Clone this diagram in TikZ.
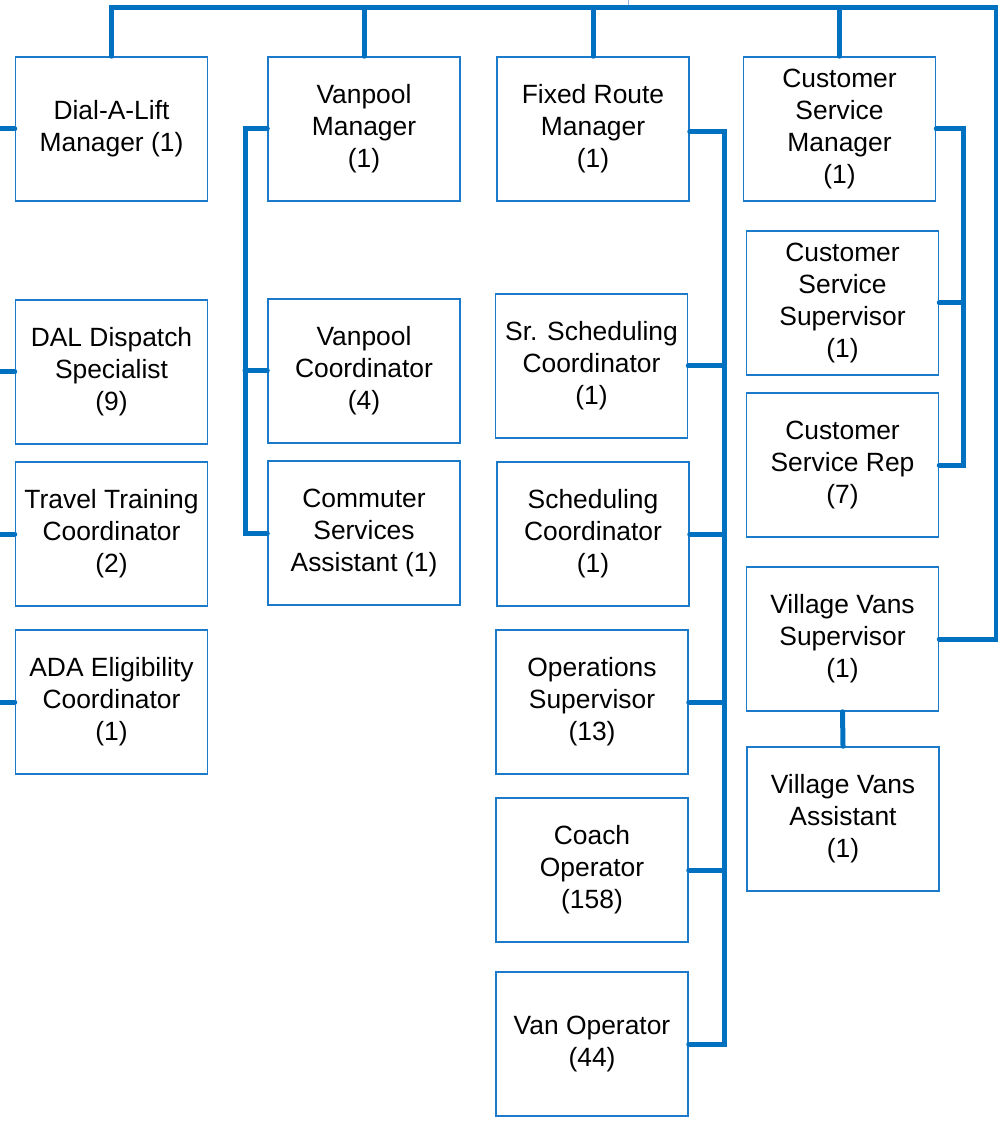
\documentclass[tikz,border=0pt]{standalone}
\usepackage{fontspec}
\setmainfont{Liberation Sans}
\usepackage{xcolor}
\usepackage{tikz}
\usetikzlibrary{positioning,calc}
\definecolor{orgLine}{HTML}{0070C0}
\definecolor{orgEdge}{HTML}{1C7ACB}
\definecolor{orgThin}{HTML}{8DB6E2}
\tikzset{
  org/.style={draw=orgEdge,line width=0.75pt,fill=white,text=black,rectangle,
              minimum width=96pt,minimum height=72pt,inner sep=0pt,align=center,
              font=\fontsize{13.2pt}{16pt}\selectfont},
  orgflow/.style={draw=orgLine,line width=2.5pt,line cap=round},
  orgthin/.style={draw=orgThin,line width=0.5pt},
}
\begin{document}
\begin{tikzpicture}[x=0.5pt,y=-0.5pt]
  \useasboundingbox (0,0) rectangle (997,1122);
  % helper coordinates for the trunk lines
  \coordinate (T) at (996,8);
  \coordinate (Lb) at (-6,0);
  \coordinate (Vb) at (245,0);
  \coordinate (Fb) at (724,0);
  \coordinate (Cb) at (963,0);
  \coordinate (Up) at (628,-10);
  \coordinate (Uj) at (628,8);

  % Dial-A-Lift column
  \node[org] (DAL) at (111.5,129) {Dial-A-Lift\\Manager (1)};
  \node[org] (DSP) at (111.5,372) {DAL Dispatch\\Specialist\\(9)};
  \node[org] (TTC) at (111.5,534) {Travel Training\\Coordinator\\(2)};
  \node[org] (ADA) at (111.5,702) {ADA Eligibility\\Coordinator\\(1)};
  % Vanpool column
  \node[org] (VPM) at (364,129) {Vanpool\\Manager\\(1)};
  \node[org] (VPC) at (364,371) {Vanpool\\Coordinator\\(4)};
  \node[org] (CSA) at (364,533) {Commuter\\Services\\Assistant (1)};
  % Fixed Route column
  \node[org] (FRM) at (593,129) {Fixed Route\\Manager\\(1)};
  \node[org] (SSC) at (591.5,366) {Sr. Scheduling\\Coordinator\\(1)};
  \node[org] (SCC) at (593,534) {Scheduling\\Coordinator\\(1)};
  \node[org] (OPS) at (592,702) {Operations\\Supervisor\\(13)};
  \node[org] (COA) at (592,870) {Coach\\Operator\\(158)};
  \node[org] (VAN) at (592,1044) {Van Operator\\(44)};
  % Customer Service column
  \node[org] (CSM) at (839.5,129) {Customer\\Service\\Manager\\(1)};
  \node[org] (CSS) at (842.5,303) {Customer\\Service\\Supervisor\\(1)};
  \node[org] (CSR) at (842.5,465) {Customer\\Service Rep\\(7)};
  \node[org] (VVS) at (842.5,639) {Village Vans\\Supervisor\\(1)};
  \node[org] (VVA) at (843,819) {Village Vans\\Assistant\\(1)};

  % top bar and drops
  \draw[orgthin] (Uj) -- (Up);
  \draw[orgflow] (DAL.north) |- (T) |- (VVS.east);
  \foreach \n in {VPM,FRM,CSM}
    \draw[orgflow] (\n.north) -- (\n.north |- T);

  % left stubs
  \foreach \n in {DAL,DSP,TTC,ADA}
    \draw[orgflow] (\n.west) -- (\n.west -| Lb);

  % vanpool branch
  \draw[orgflow] (VPM.west) -- (VPM.west -| Vb) |- (CSA.west);
  \draw[orgflow] (VPC.west) -- (VPC.west -| Vb);

  % fixed route branch
  \draw[orgflow] ([yshift=-1.5pt]FRM.east) -- ([yshift=-1.5pt]FRM.east -| Fb) |- (VAN.east);
  \foreach \n in {SSC,SCC,OPS,COA}
    \draw[orgflow] (\n.east) -- (\n.east -| Fb);

  % customer service branch
  \draw[orgflow] (CSM.east) -- (CSM.east -| Cb) |- (CSR.east);
  \draw[orgflow] (CSS.east) -- (CSS.east -| Cb);
  \draw[orgflow] (VVS.south) -- (VVA.north);
\end{tikzpicture}
\end{document}
